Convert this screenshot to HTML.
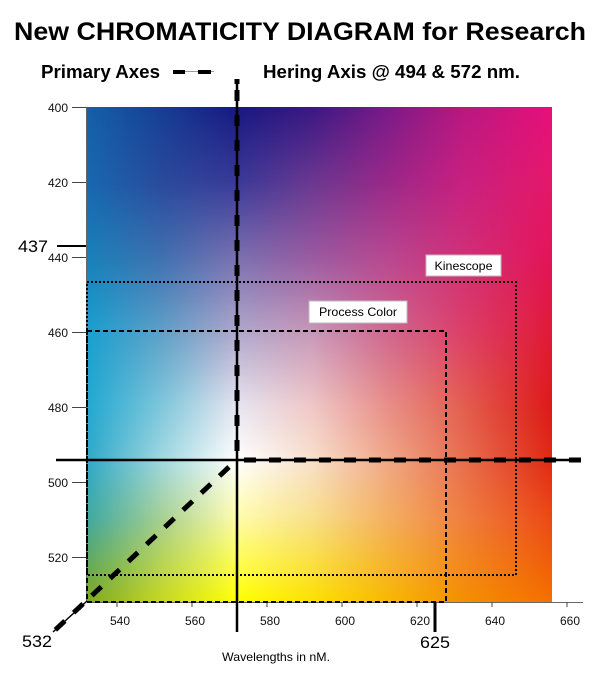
<!DOCTYPE html>
<html><head><meta charset="utf-8">
<style>
html,body{margin:0;padding:0;background:#fff;}
body{width:600px;height:675px;position:relative;overflow:hidden;font-family:"Liberation Sans",Arial,sans-serif;}
.seg{position:absolute;left:87px;width:465px;}
.seg>div{position:absolute;left:0;top:0;right:0;bottom:0;-webkit-mask-image:linear-gradient(to bottom,transparent,#000);mask-image:linear-gradient(to bottom,transparent,#000);}
svg{position:absolute;left:0;top:0;}
</style></head><body>

<div class="seg" style="top:107px;height:75px;background:linear-gradient(to right,#1560a8 0%,#163e94 16.13%,#181880 32.26%,#3a1882 48.39%,#7a1a88 64.52%,#b81880 80.65%,#e8107c 100%)"><div style="background:linear-gradient(to right,#1868b0 0%,#2a4a9c 16.13%,#3a3a98 32.26%,#6a3890 48.39%,#9a2888 64.52%,#c82080 80.65%,#e4186a 100%)"></div></div>
<div class="seg" style="top:182px;height:75px;background:linear-gradient(to right,#1868b0 0%,#2a4a9c 16.13%,#3a3a98 32.26%,#6a3890 48.39%,#9a2888 64.52%,#c82080 80.65%,#e4186a 100%)"><div style="background:linear-gradient(to right,#1880b8 0%,#4070b0 16.13%,#7a70b0 32.26%,#9a5aa0 48.39%,#b84890 64.52%,#d03078 80.65%,#e41458 100%)"></div></div>
<div class="seg" style="top:257px;height:75px;background:linear-gradient(to right,#1880b8 0%,#4070b0 16.13%,#7a70b0 32.26%,#9a5aa0 48.39%,#b84890 64.52%,#d03078 80.65%,#e41458 100%)"><div style="background:linear-gradient(to right,#18a0d0 0%,#60a0c8 16.13%,#b0a8cc 32.26%,#c898b8 48.39%,#d06890 64.52%,#dc4068 80.65%,#e01a38 100%)"></div></div>
<div class="seg" style="top:332px;height:75px;background:linear-gradient(to right,#18a0d0 0%,#60a0c8 16.13%,#b0a8cc 32.26%,#c898b8 48.39%,#d06890 64.52%,#dc4068 80.65%,#e01a38 100%)"><div style="background:linear-gradient(to right,#22a8d0 0%,#80c8dc 16.13%,#e8e6f0 32.26%,#f0c8c8 48.39%,#e89088 64.52%,#e46050 80.65%,#dc1a18 100%)"></div></div>
<div class="seg" style="top:407px;height:53px;background:linear-gradient(to right,#22a8d0 0%,#80c8dc 16.13%,#e8e6f0 32.26%,#f0c8c8 48.39%,#e89088 64.52%,#e46050 80.65%,#dc1a18 100%)"><div style="background:linear-gradient(to right,#30a8c8 0%,#a0d8e0 16.13%,#ffffff 32.26%,#f8e0cc 48.39%,#f0a888 64.52%,#e87050 80.65%,#e02a14 100%)"></div></div>
<div class="seg" style="top:460px;height:60px;background:linear-gradient(to right,#30a8c8 0%,#a0d8e0 16.13%,#ffffff 32.26%,#f8e0cc 48.39%,#f0a888 64.52%,#e87050 80.65%,#e02a14 100%)"><div style="background:linear-gradient(to right,#40a8a0 0%,#a8d090 16.13%,#fffca8 32.26%,#f8e088 48.39%,#f4b060 64.52%,#f08040 80.65%,#ec4a14 100%)"></div></div>
<div class="seg" style="top:520px;height:82px;background:linear-gradient(to right,#40a8a0 0%,#a8d090 16.13%,#fffca8 32.26%,#f8e088 48.39%,#f4b060 64.52%,#f08040 80.65%,#ec4a14 100%)"><div style="background:linear-gradient(to right,#80a820 0%,#c8d820 16.13%,#ffff00 32.26%,#fce000 48.39%,#f8b800 64.52%,#f49000 80.65%,#f47000 100%)"></div></div>

<svg width="600" height="675" viewBox="0 0 600 675" xmlns="http://www.w3.org/2000/svg" font-family="Liberation Sans, Arial, sans-serif">
  <!-- title -->
  <text x="14" y="40" font-size="25" font-weight="bold" textLength="572" lengthAdjust="spacingAndGlyphs">New CHROMATICITY DIAGRAM for Research</text>
  <text x="41" y="78" font-size="18" font-weight="bold" textLength="119" lengthAdjust="spacingAndGlyphs">Primary Axes</text>
  <line x1="173" y1="71.5" x2="214" y2="71.5" stroke="#999" stroke-width="1"/>
  <line x1="173" y1="72" x2="185" y2="72" stroke="#000" stroke-width="4"/>
  <line x1="198" y1="72" x2="211" y2="72" stroke="#000" stroke-width="4"/>
  <text x="263" y="78" font-size="18" font-weight="bold" textLength="257" lengthAdjust="spacingAndGlyphs">Hering Axis @ 494 &amp; 572 nm.</text>

  <!-- axes -->
  <line x1="86.5" y1="107" x2="86.5" y2="602" stroke="#666" stroke-width="1"/>
  <line x1="87" y1="602.5" x2="583" y2="602.5" stroke="#666" stroke-width="1"/>

  <!-- y ticks -->
  <g stroke="#444" stroke-width="1">
    <line x1="72" y1="107.5" x2="86" y2="107.5"/>
    <line x1="72" y1="182.5" x2="86" y2="182.5"/>
    <line x1="72" y1="257.5" x2="86" y2="257.5"/>
    <line x1="72" y1="332.5" x2="86" y2="332.5"/>
    <line x1="72" y1="407.5" x2="86" y2="407.5"/>
    <line x1="72" y1="482.5" x2="86" y2="482.5"/>
    <line x1="72" y1="557.5" x2="86" y2="557.5"/>
  </g>
  <g font-size="12" text-anchor="end" fill="#111">
    <text x="68" y="112">400</text>
    <text x="68" y="187">420</text>
    <text x="68" y="262">440</text>
    <text x="68" y="337">460</text>
    <text x="68" y="412">480</text>
    <text x="68" y="487">500</text>
    <text x="68" y="562">520</text>
  </g>
  <!-- x ticks -->
  <g stroke="#444" stroke-width="1">
    <line x1="117" y1="602" x2="117" y2="607"/>
    <line x1="192" y1="602" x2="192" y2="607"/>
    <line x1="267" y1="602" x2="267" y2="607"/>
    <line x1="342" y1="602" x2="342" y2="607"/>
    <line x1="417" y1="602" x2="417" y2="607"/>
    <line x1="492" y1="602" x2="492" y2="607"/>
    <line x1="567" y1="602" x2="567" y2="607"/>
  </g>
  <g font-size="12" text-anchor="middle" fill="#111">
    <text x="120" y="625">540</text>
    <text x="195" y="625">560</text>
    <text x="270" y="625">580</text>
    <text x="345" y="625">600</text>
    <text x="420" y="625">620</text>
    <text x="495" y="625">640</text>
    <text x="570" y="625">660</text>
  </g>
  <text x="222" y="661" font-size="12" textLength="108" lengthAdjust="spacingAndGlyphs">Wavelengths in nM.</text>

  <!-- special ticks -->
  <line x1="57" y1="246" x2="86" y2="246" stroke="#000" stroke-width="2"/>
  <text x="18" y="252" font-size="17" textLength="30" lengthAdjust="spacingAndGlyphs">437</text>
  <line x1="435" y1="602" x2="435" y2="632" stroke="#000" stroke-width="3"/>
  <text x="420" y="648" font-size="17" textLength="30" lengthAdjust="spacingAndGlyphs">625</text>
  <text x="22" y="647" font-size="17" textLength="30" lengthAdjust="spacingAndGlyphs">532</text>

  <!-- boxes -->
  <rect x="87" y="282" width="429" height="293" fill="none" stroke="#000" stroke-width="2" stroke-dasharray="2 2"/>
  <rect x="87" y="331" width="359" height="271" fill="none" stroke="#000" stroke-width="2" stroke-dasharray="5 3"/>

  <!-- labels -->
  <rect x="426" y="255" width="75" height="21" fill="#fff" stroke="#bbb" stroke-width="1"/>
  <text x="463.5" y="270" font-size="12" text-anchor="middle" textLength="58" lengthAdjust="spacingAndGlyphs">Kinescope</text>
  <rect x="309" y="301" width="98" height="22" fill="#fff" stroke="#bbb" stroke-width="1"/>
  <text x="358" y="316" font-size="12" text-anchor="middle" textLength="78" lengthAdjust="spacingAndGlyphs">Process Color</text>

  <!-- Hering axes -->
  <line x1="237" y1="79" x2="237" y2="632" stroke="#000" stroke-width="2.5"/>
  <line x1="237" y1="87" x2="237" y2="460" stroke="#000" stroke-width="5" stroke-dasharray="11 14" stroke-dashoffset="-3"/>
  <line x1="237" y1="79" x2="237" y2="84" stroke="#000" stroke-width="5"/>
  <line x1="56" y1="460" x2="580" y2="460" stroke="#000" stroke-width="2.5"/>
  <line x1="244" y1="460" x2="581" y2="460" stroke="#000" stroke-width="5" stroke-dasharray="12 13"/>

  <!-- diagonal -->
  <line x1="87" y1="601" x2="53" y2="632" stroke="#000" stroke-width="1.5"/>
  <line x1="229" y1="467" x2="53" y2="632" stroke="#000" stroke-width="5" stroke-dasharray="13 12"/>
</svg>
</body></html>
